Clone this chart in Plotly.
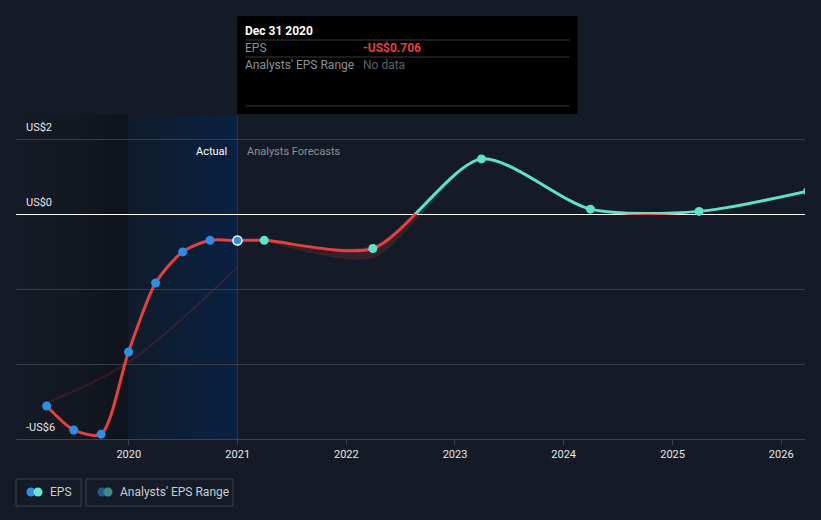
import plotly.graph_objects as go

# ---------------- data ----------------
ACTUAL_DATES = ["2019-03-31", "2019-06-30", "2019-09-30", "2019-12-31",
                "2020-03-31", "2020-06-30", "2020-09-30", "2020-12-31"]
ACTUAL_EPS = [-5.12, -5.76, -5.87, -3.68, -1.84, -1.01, -0.70, -0.706]

FORECAST_DATES = ["2021-03-31", "2022-03-31", "2023-03-31",
                  "2024-03-31", "2025-03-31", "2026-03-31"]
FORECAST_EPS = [-0.70, -0.92, 1.47, 0.13, 0.07, 0.61]
RANGE_LOW = [-0.72, -1.17, 1.44, 0.09, 0.04, 0.58]
RANGE_HIGH = [-0.68, -0.84, 1.50, 0.17, 0.10, 0.64]

PAST_RANGE_DATES = ["2019-03-31", "2019-12-31", "2020-12-31"]
PAST_RANGE = [-5.03, -3.95, -1.41]

YEAR_TICKS = ["2020-01-01", "2021-01-01", "2022-01-01", "2023-01-01",
              "2024-01-01", "2025-01-01", "2026-01-01"]
YEAR_LABELS = ["2020", "2021", "2022", "2023", "2024", "2025", "2026"]
Y_TICKS = [2, 0, -2, -4, -6]
Y_LABELS = ["US$2", "US$0", "", "", "-US$6"]

X_RANGE = ["2018-12-18", "2026-03-22"]
Y_RANGE = [-6, 2.64]
PERIOD_EDGES = ["2018-12-18", "2019-12-31", "2020-12-31"]

# ---------------- style ----------------
BG = "#151b26"
RED = "#e5403f"
TEAL = "#5fe1ca"
BLUE = "#2b8fe3"
GRID = "#363c48"
FONT = "Roboto"
SMOOTH = 0.75

LINE_DATES = ACTUAL_DATES + FORECAST_DATES
LINE_EPS = ACTUAL_EPS + FORECAST_EPS
SPLIT = (0 - Y_RANGE[0]) / (Y_RANGE[1] - Y_RANGE[0])

fig = go.Figure()

# period bands (subplot xy)
fig.add_trace(go.Scatter(
    x=[PERIOD_EDGES[0], PERIOD_EDGES[1], PERIOD_EDGES[1], PERIOD_EDGES[0]],
    y=[Y_RANGE[0], Y_RANGE[0], Y_RANGE[1], Y_RANGE[1]],
    mode="none", fill="toself",
    fillgradient=dict(type="horizontal",
                      colorscale=[[0, "rgba(0,0,0,0)"], [1, "rgba(0,0,0,0.28)"]]),
    hoverinfo="skip", showlegend=False, xaxis="x", yaxis="y"))
fig.add_trace(go.Scatter(
    x=[PERIOD_EDGES[1], PERIOD_EDGES[2], PERIOD_EDGES[2], PERIOD_EDGES[1]],
    y=[Y_RANGE[0], Y_RANGE[0], Y_RANGE[1], Y_RANGE[1]],
    mode="none", fill="toself",
    fillgradient=dict(type="horizontal",
                      colorscale=[[0, "rgba(5,30,60,0.3)"], [1, "rgba(5,35,80,0.7)"]]),
    hoverinfo="skip", showlegend=False, xaxis="x", yaxis="y"))

# faint past range line (grid subplot xy2)
fig.add_trace(go.Scatter(
    x=PAST_RANGE_DATES, y=PAST_RANGE, mode="lines",
    line=dict(color="rgba(150,45,45,0.28)", width=2, shape="spline"),
    hoverinfo="skip", showlegend=False, xaxis="x", yaxis="y2"))

# negative part (red) on lower clip axis
fig.add_trace(go.Scatter(
    x=FORECAST_DATES, y=RANGE_HIGH, mode="lines",
    line=dict(width=0, shape="spline", smoothing=SMOOTH), hoverinfo="skip",
    showlegend=False, xaxis="x", yaxis="y3"))
fig.add_trace(go.Scatter(
    x=FORECAST_DATES, y=RANGE_LOW, mode="lines", fill="tonexty",
    fillcolor="rgba(229,64,63,0.16)",
    line=dict(width=0, shape="spline", smoothing=SMOOTH), hoverinfo="skip",
    showlegend=False, xaxis="x", yaxis="y3"))
fig.add_trace(go.Scatter(
    x=LINE_DATES, y=LINE_EPS, mode="lines",
    line=dict(color=RED, width=3, shape="spline", smoothing=SMOOTH),
    hoverinfo="skip", showlegend=False, xaxis="x", yaxis="y3"))

# positive part (teal) on upper clip axis
fig.add_trace(go.Scatter(
    x=FORECAST_DATES, y=RANGE_HIGH, mode="lines",
    line=dict(width=0, shape="spline", smoothing=SMOOTH), hoverinfo="skip",
    showlegend=False, xaxis="x", yaxis="y4"))
fig.add_trace(go.Scatter(
    x=FORECAST_DATES, y=RANGE_LOW, mode="lines", fill="tonexty",
    fillcolor="rgba(95,225,202,0.16)",
    line=dict(width=0, shape="spline", smoothing=SMOOTH), hoverinfo="skip",
    showlegend=False, xaxis="x", yaxis="y4"))
fig.add_trace(go.Scatter(
    x=LINE_DATES, y=LINE_EPS, mode="lines",
    line=dict(color=TEAL, width=3, shape="spline", smoothing=SMOOTH),
    hoverinfo="skip", showlegend=False, xaxis="x", yaxis="y4"))

# markers
fig.add_trace(go.Scatter(
    x=ACTUAL_DATES, y=ACTUAL_EPS, mode="markers",
    marker=dict(color=BLUE, size=9,
                line=dict(color="white",
                          width=[0] * (len(ACTUAL_DATES) - 1) + [1.5])),
    name="EPS", showlegend=False, xaxis="x", yaxis="y5"))
fig.add_trace(go.Scatter(
    x=FORECAST_DATES, y=FORECAST_EPS, mode="markers",
    marker=dict(color=TEAL, size=9),
    name="EPS forecast", showlegend=False, xaxis="x", yaxis="y5"))

hidden = dict(visible=False, fixedrange=True)
fig.update_layout(
    width=821, height=520,
    margin=dict(l=16, r=16, t=115, b=81),
    paper_bgcolor=BG, plot_bgcolor="rgba(0,0,0,0)",
    font=dict(family=FONT, color="#e6e6e6", size=11),
    showlegend=False,
    hovermode=False,
    xaxis=dict(range=X_RANGE, type="date", tickvals=YEAR_TICKS, ticktext=YEAR_LABELS,
               showgrid=False, zeroline=False, showline=True, linecolor="#3d424d",
               linewidth=1, ticks="outside", ticklen=5, tickcolor="#3d424d",
               tickfont=dict(size=11, color="#e6e6e6"), anchor="y", fixedrange=True),
    yaxis=dict(range=Y_RANGE, domain=[0, 1], **hidden),
    yaxis2=dict(range=Y_RANGE, domain=[0, 1], anchor="x", tickvals=Y_TICKS,
                showticklabels=False, ticks="", showgrid=True, gridcolor=GRID,
                gridwidth=1, zeroline=True, zerolinecolor="#ffffff",
                zerolinewidth=1.2, showline=False, fixedrange=True),
    yaxis3=dict(range=[Y_RANGE[0], 0], domain=[0, SPLIT], anchor="x", **hidden),
    yaxis4=dict(range=[0, Y_RANGE[1]], domain=[SPLIT, 1], anchor="x", **hidden),
    yaxis5=dict(range=Y_RANGE, domain=[0, 1], anchor="x", **hidden),
)

annotations = []
# y tick labels
for v, lab in zip(Y_TICKS, Y_LABELS):
    if lab:
        annotations.append(dict(xref="paper", x=0, xshift=8, xanchor="left",
                                yref="y2", y=v, yanchor="bottom", yshift=3,
                                text=lab, showarrow=False,
                                font=dict(size=11, color="#e6e6e6")))

# Actual / Analysts Forecasts labels
annotations.append(dict(xref="x", x=PERIOD_EDGES[2], xshift=-8, xanchor="right",
                        yref="paper", y=1, yshift=-36, yanchor="middle",
                        text="Actual", showarrow=False,
                        font=dict(size=11, color="#ffffff")))
annotations.append(dict(xref="x", x=PERIOD_EDGES[2], xshift=8, xanchor="left",
                        yref="paper", y=1, yshift=-36, yanchor="middle",
                        text="Analysts Forecasts", showarrow=False,
                        font=dict(size=11, color="#8b9099")))

# tooltip texts
tip = dict(xref="x", x=PERIOD_EDGES[2], xanchor="left", yref="paper", y=1,
           yanchor="middle", showarrow=False)
annotations += [
    dict(**tip, xshift=6, yshift=84, text="<b>Dec 31 2020</b>",
         font=dict(size=12, color="#ffffff")),
    dict(**tip, xshift=6, yshift=67, text="EPS", font=dict(size=12, color="#8b9099")),
    dict(**tip, xshift=124, yshift=67, text="<b>-US$0.706</b>",
         font=dict(size=12, color=RED)),
    dict(**tip, xshift=6, yshift=50, text="Analysts' EPS Range",
         font=dict(size=12, color="#8b9099")),
    dict(**tip, xshift=124, yshift=50, text="No data",
         font=dict(size=12, color="#5c616a")),
]

# legend texts
annotations += [
    dict(xref="paper", x=0, xshift=32, xanchor="left", yref="paper", y=0,
         yshift=-53, yanchor="middle", text="EPS", showarrow=False,
         font=dict(size=12, color="#c8ccd2")),
    dict(xref="paper", x=0, xshift=102, xanchor="left", yref="paper", y=0,
         yshift=-53, yanchor="middle", text="Analysts' EPS Range", showarrow=False,
         font=dict(size=12, color="#c8ccd2")),
]
fig.update_layout(annotations=annotations)

shapes = []
# actual/forecast divider
shapes.append(dict(type="line", xref="x", x0=PERIOD_EDGES[2], x1=PERIOD_EDGES[2],
                   yref="paper", y0=0, y1=1, layer="below",
                   line=dict(color="#1d4375", width=1)))
# tooltip box and separators
shapes.append(dict(type="rect", xref="x", xsizemode="pixel", xanchor=PERIOD_EDGES[2],
                   x0=0, x1=340, yref="paper", ysizemode="pixel", yanchor=1,
                   y0=1, y1=99, fillcolor="#000000", line=dict(width=0), layer="above"))
for yy in [75, 58, 9]:
    shapes.append(dict(type="line", xref="x", xsizemode="pixel", xanchor=PERIOD_EDGES[2],
                       x0=8, x1=332, yref="paper", ysizemode="pixel", yanchor=1,
                       y0=yy, y1=yy, line=dict(color="#3a3a3a", width=1), layer="above"))
# legend boxes
for x0, x1 in [(0, 65), (70, 217)]:
    shapes.append(dict(type="rect", xref="paper", xsizemode="pixel", xanchor=0,
                       x0=x0, x1=x1, yref="paper", ysizemode="pixel", yanchor=0,
                       y0=-40, y1=-67, line=dict(color="#3b414d", width=1),
                       fillcolor="rgba(0,0,0,0)", layer="above"))
# legend icons
for cx, col in [(15, BLUE), (22, "#6be5d2"), (86, "#1f5b87"), (92, "#3f8a86")]:
    shapes.append(dict(type="circle", xref="paper", xsizemode="pixel", xanchor=0,
                       x0=cx - 4.5, x1=cx + 4.5, yref="paper", ysizemode="pixel",
                       yanchor=0, y0=-57.5, y1=-48.5, fillcolor=col,
                       line=dict(width=0), layer="above"))
fig.update_layout(shapes=shapes)

fig.write_html("out.html",
               config={"displayModeBar": False, "staticPlot": False},
               post_script="document.body.style.margin='0';"
                           "document.body.style.background='" + BG + "';")
